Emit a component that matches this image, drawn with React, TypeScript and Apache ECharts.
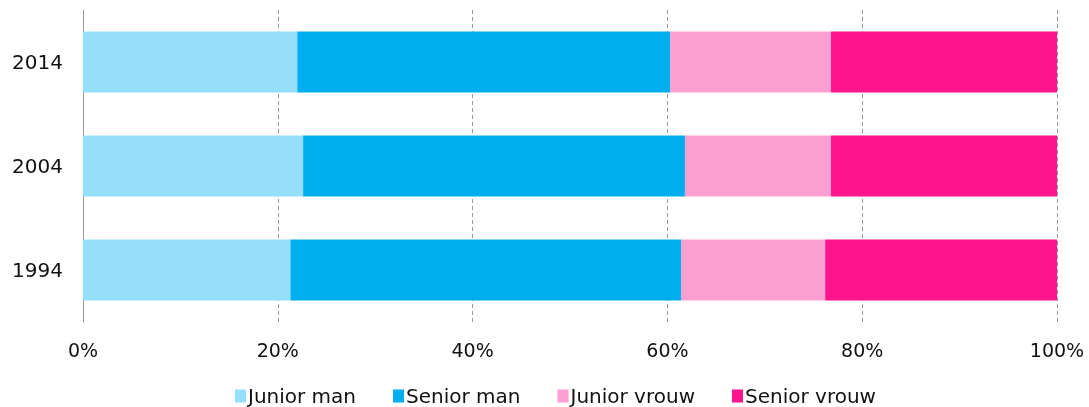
import React, { useEffect, useRef } from "react";
import * as echarts from "echarts";

const years = ["1994", "2004", "2014"];
const juniorMan = [21.3, 22.6, 22.0];
const seniorMan = [40.1, 39.2, 38.3];
const juniorVrouw = [14.8, 15.0, 16.5];
const seniorVrouw = [23.8, 23.2, 23.2];
const xTicks = [0, 20, 40, 60, 80, 100];

const FONT = "'DejaVu Sans', sans-serif";

export default function App() {
  const ref = useRef<HTMLDivElement>(null);
  useEffect(() => {
    if (!ref.current) return;
    const chart = echarts.init(ref.current, undefined, { renderer: "svg" });
    const mk = (name: string, data: number[], color: string) => ({
      name,
      type: "bar",
      stack: "total",
      data,
      barWidth: 61,
      itemStyle: { color },
    });
    chart.setOption({
      animation: false,
      textStyle: { fontFamily: FONT },
      grid: { left: 83, right: 32, top: 10, bottom: 85, containLabel: false },
      legend: {
        top: 386,
        left: 235,
        padding: 0,
        itemWidth: 11,
        itemHeight: 13,
        itemGap: 37,
        icon: "rect",
        textStyle: {
          fontSize: 20,
          lineHeight: 16,
          color: "#111",
          fontFamily: FONT,
          padding: [0, 0, 0, -3],
        },
        data: ["Junior man", "Senior man", "Junior vrouw", "Senior vrouw"],
      },
      xAxis: {
        type: "value",
        min: 0,
        max: 100,
        interval: 20,
        axisLine: { show: false },
        axisTick: { show: false },
        axisLabel: {
          fontSize: 19,
          color: "#111",
          margin: 18,
          fontFamily: FONT,
          formatter: (v: number) => (xTicks.includes(v) ? v + "%" : ""),
        },
        splitLine: {
          show: true,
          lineStyle: { color: "#999", type: [4, 3], width: 1 },
        },
      },
      yAxis: {
        type: "category",
        data: years,
        axisLine: { show: true, lineStyle: { color: "#999", width: 1 } },
        axisTick: { show: false },
        axisLabel: { fontSize: 20, color: "#111", margin: 20, fontFamily: FONT },
      },
      series: [
        mk("Junior man", juniorMan, "#96DFFC"),
        mk("Senior man", seniorMan, "#00AEEF"),
        mk("Junior vrouw", juniorVrouw, "#FBA0D0"),
        mk("Senior vrouw", seniorVrouw, "#FE148D"),
      ],
    });
    return () => chart.dispose();
  }, []);
  return (
    <div
      ref={ref}
      style={{ position: "fixed", top: 0, left: 0, width: 1089, height: 407 }}
    />
  );
}
